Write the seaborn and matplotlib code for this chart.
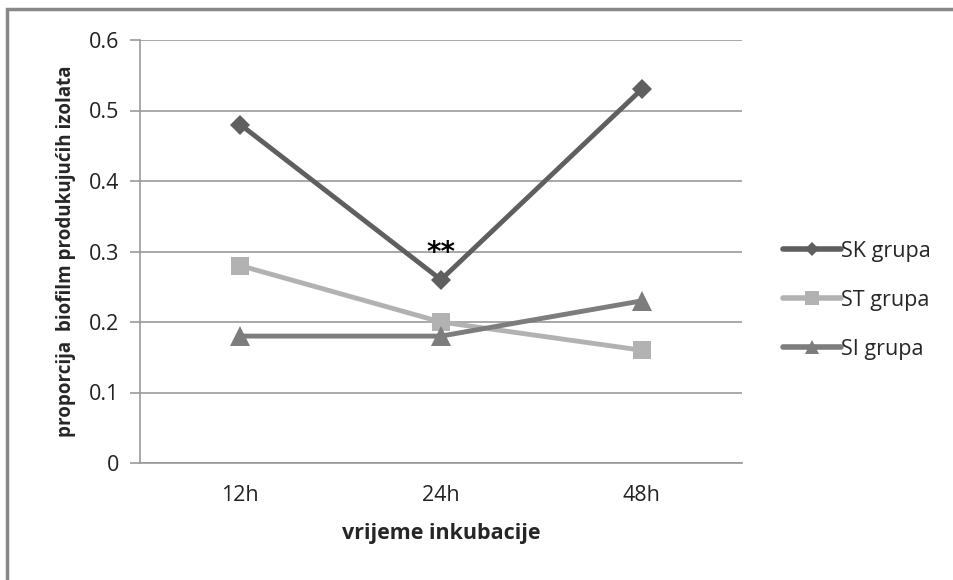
import matplotlib
matplotlib.use("Agg")
import matplotlib.pyplot as plt
import seaborn as sns
import pandas as pd
from matplotlib.patches import Rectangle

# Incubation times and proportions of biofilm-producing isolates per group
times = ["12h", "24h", "48h"]
sk_values = [0.48, 0.26, 0.53]
st_values = [0.28, 0.20, 0.16]
si_values = [0.18, 0.18, 0.23]
groups = ["SK grupa", "ST grupa", "SI grupa"]
y_ticks = [0, 0.1, 0.2, 0.3, 0.4, 0.5, 0.6]

sns.set_theme(style="white")
plt.rcParams["font.family"] = ["Open Sans", "DejaVu Sans"]

df = pd.DataFrame({
    "vrijeme": times * 3,
    "proporcija": sk_values + st_values + si_values,
    "grupa": [g for g in groups for _ in times],
})

palette = {"SK grupa": "#5f5f5f", "ST grupa": "#b2b2b2", "SI grupa": "#7d7d7d"}
markers = {"SK grupa": "D", "ST grupa": "s", "SI grupa": "^"}
msizes = {"SK grupa": 10, "ST grupa": 13, "SI grupa": 14}

fig = plt.figure(figsize=(9.54, 5.80), dpi=100)
ax = fig.add_axes([140 / 954, 1 - 463 / 580, (742 - 140) / 954, (463 - 40) / 580])

for g in groups:
    sub = df[df["grupa"] == g]
    sns.lineplot(data=sub, x="vrijeme", y="proporcija", ax=ax, color=palette[g],
                 marker=markers[g], markersize=msizes[g], markeredgewidth=0,
                 linewidth=3.5, label=g, sort=False)

# significance mark above the SK group at 24h
ax.annotate("**", xy=(1, sk_values[1]), xytext=(0, 9), textcoords="offset points",
            ha="center", va="bottom", fontsize=20, fontweight="bold", color="black",
            family=["DejaVu Sans"])

ax.set_xlim(-0.5, 2.5)
ax.set_ylim(0, 0.6)
ax.set_yticks(y_ticks)
ax.set_yticklabels([f"{v:g}" for v in y_ticks])
ax.set_xticks(range(len(times)))
ax.set_xticklabels(times)
ax.set_xticks([-0.5, 0.5, 1.5, 2.5], minor=True)
ax.tick_params(axis="x", which="major", length=0, pad=16, labelsize=15.5, colors="#222222")
ax.tick_params(axis="x", which="minor", length=7, width=1.2, color="#999999", direction="out")
ax.tick_params(axis="y", length=7, width=1.2, color="#999999", direction="out",
               pad=8, labelsize=15.5, labelcolor="#222222", left=True)
ax.yaxis.grid(True, color="#999999", linewidth=1.2)
ax.xaxis.grid(False)
for side in ["top", "right"]:
    ax.spines[side].set_visible(False)
for side in ["left", "bottom"]:
    ax.spines[side].set_color("#999999")
    ax.spines[side].set_linewidth(1.2)
ax.set_axisbelow(True)

ax.set_xlabel("vrijeme inkubacije", fontsize=15.5, fontweight="bold", labelpad=12)
ax.set_ylabel("proporcija  biofilm produkujućih izolata", fontsize=13.5, fontweight="bold",
              labelpad=9)

leg = ax.legend(loc="center left", bbox_to_anchor=(1.05, 0.385), frameon=False,
                fontsize=15.5, handlelength=2.7, labelspacing=1.3, handletextpad=0.0,
                borderpad=0, markerscale=0.75)
for line in leg.get_lines():
    line.set_linewidth(4)

# outer chart frame (extends past the right and bottom edges)
fig.patches.append(Rectangle((7 / 954, -0.1), 1.2, 1.1 - 9 / 580, transform=fig.transFigure,
                             fill=False, edgecolor="#888888", linewidth=2.5))

fig.savefig("out.png", dpi=100, facecolor="white")
